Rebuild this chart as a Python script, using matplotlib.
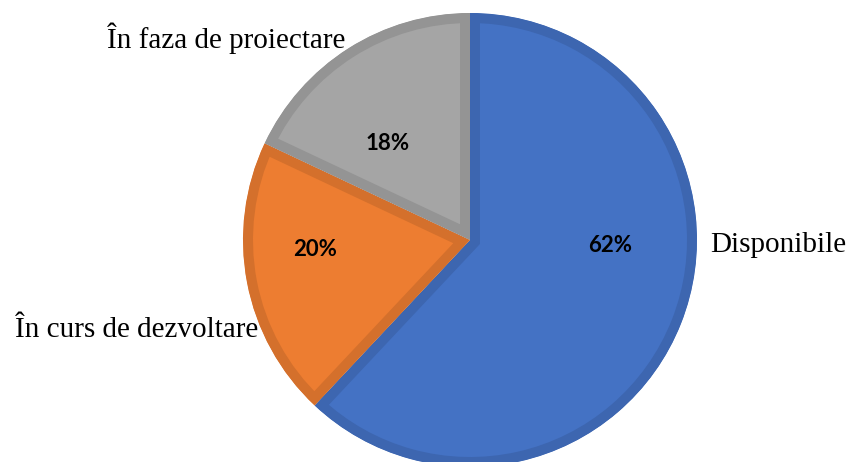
import matplotlib.pyplot as plt
from matplotlib.patches import Wedge

categories = ['Disponibile', 'În curs de dezvoltare', 'În faza de proiectare']
shares = [62, 20, 18]
fill_colors = ['#4472C4', '#ED7D31', '#A5A5A5']
edge_colors = ['#3D66B0', '#D4702C', '#949494']

# canvas in pixel units so the layout is easy to place
fig = plt.figure(figsize=(8.48, 4.62), dpi=100)
ax = fig.add_axes([0, 0, 1, 1])

cx, cy, r = 470, 222, 227
wedges, _ = ax.pie(shares, colors=fill_colors, startangle=90, counterclock=False,
                   center=(cx, cy), radius=r, frame=True)
ax.set_xlim(0, 848)
ax.set_ylim(0, 462)
ax.set_aspect('equal')
ax.axis('off')

# darker border drawn inside each slice: thick edge clipped to the slice shape
for w, ec in zip(wedges, edge_colors):
    clip = Wedge(w.center, w.r, w.theta1, w.theta2, transform=ax.transData)
    w.set_edgecolor(ec)
    w.set_linewidth(20 * 72 / 100)
    w.set_clip_on(True)
    w.set_clip_path(clip)

pct_pos = [(610, 216), (315, 212), (388, 319)]
for v, (x, y) in zip(shares, pct_pos):
    ax.text(x, y, f'{v}%', ha='center', va='center', fontsize=16,
            fontweight='bold', family='Lato', color='black')

label_pos = [(710, 217, 'left'), (258, 132, 'right'), (345, 424, 'right')]
for name, (x, y, ha) in zip(categories, label_pos):
    ax.text(x, y, name, ha=ha, va='center', fontsize=21,
            family='Liberation Serif', color='black')

fig.savefig('out.png', dpi=100)
